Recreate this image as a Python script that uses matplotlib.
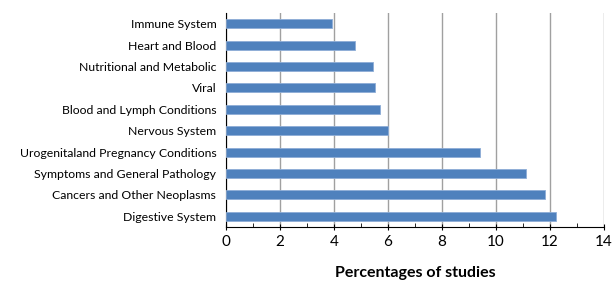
import numpy as np
import matplotlib.pyplot as plt
from matplotlib.ticker import MultipleLocator

plt.rcParams['font.family'] = ['Lato', 'DejaVu Sans']

categories = ["Digestive System", "Cancers and Other Neoplasms", "Symptoms and General Pathology",
              "Urogenitaland Pregnancy Conditions", "Nervous System", "Blood and Lymph Conditions",
              "Viral", "Nutritional and Metabolic", "Heart and Blood", "Immune System"]
values = [12.22, 11.82, 11.1, 9.42, 6.0, 5.7, 5.52, 5.45, 4.78, 3.92]

fig = plt.figure(figsize=(6.16, 2.81), dpi=100)
ax = fig.add_axes([0.367, 0.192, 0.6135, 0.762])

y = np.arange(len(categories))
ax.barh(y, values, height=0.42, color='#4F81BD', edgecolor='#8EADD6', linewidth=0.6, zorder=3)

ax.set_xlim(0, 14)
ax.set_ylim(-0.5, len(categories) - 0.5)
ax.xaxis.set_major_locator(MultipleLocator(2))
ax.xaxis.set_minor_locator(MultipleLocator(1))
ax.grid(axis='x', which='major', color='#A0A0A0', linewidth=1.0, zorder=0)

ax.set_yticks(y)
ax.set_yticklabels(categories, fontsize=8.8)
ax.tick_params(axis='y', length=0, pad=7)
ax.tick_params(axis='x', which='major', length=4, direction='inout', labelsize=11, pad=4)
ax.tick_params(axis='x', which='minor', length=3, direction='in')

for s in ['top', 'right']:
    ax.spines[s].set_visible(False)
ax.spines['left'].set_color('black')
ax.spines['bottom'].set_color('black')

ax.set_xlabel("Percentages of studies", fontsize=11.5, fontweight='bold', labelpad=12)

fig.savefig("out.png", dpi=100)
